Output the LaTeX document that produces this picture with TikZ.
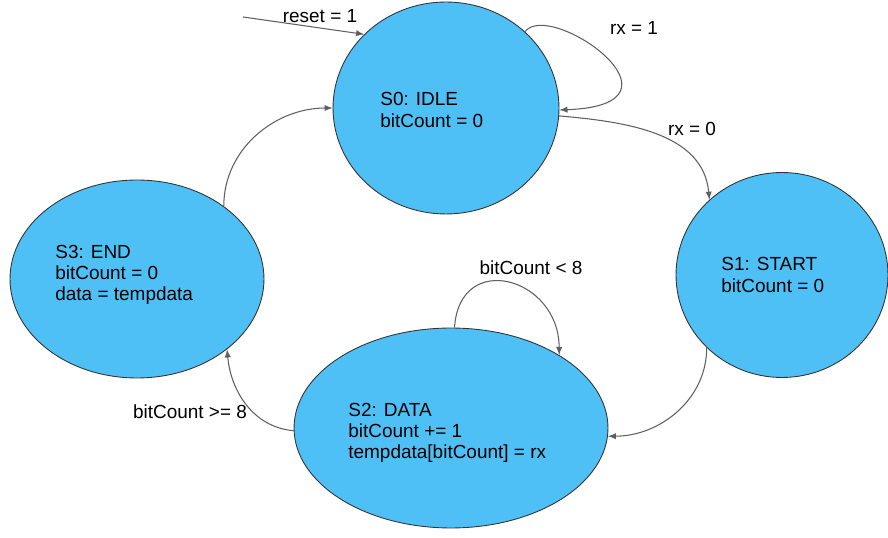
\documentclass[tikz,border=0pt]{standalone}
\usepackage{fontspec}
\setmainfont{Liberation Sans}
\usetikzlibrary{arrows,shapes.geometric}

\definecolor{stateblue}{RGB}{79,192,246}
\definecolor{edgegray}{RGB}{95,95,95}

\begin{document}
\begin{tikzpicture}[x=0.02cm, y=0.02cm,
    font=\fontsize{10.8}{12}\selectfont,
    fsm/.style={draw=black!80, ellipse, fill=stateblue, inner sep=0pt, line width=0.5pt},
    statetext/.style={anchor=west, align=left, inner sep=0pt},
    trans/.style={->, >=latex, draw=edgegray, line width=0.6pt},
    cond/.style={inner sep=1pt}
]
\useasboundingbox (0,0) rectangle (888,537);

% States
\node[fsm, minimum width=4.52cm, minimum height=4.24cm] (S0) at (446,429) {};
\node[fsm, minimum width=4.24cm, minimum height=4.10cm] (S1) at (782,262) {};
\node[fsm, minimum width=6.28cm, minimum height=4.00cm] (S2) at (451,109) {};
\node[fsm, minimum width=5.08cm, minimum height=3.96cm] (S3) at (137,258) {};

% State contents
\node[statetext] (S0t) at (380,427) {S0: IDLE\\bitCount = 0};
\node[statetext] (S1t) at (721,262) {S1: START\\bitCount = 0};
\node[statetext] (S2t) at (348,104) {S2: DATA\\bitCount += 1\\tempdata[bitCount] = rx};
\node[statetext] (S3t) at (55,262) {S3: END\\bitCount = 0\\data = tempdata};

% Reset entry
\coordinate (rst) at (243,520);
\draw[trans] (rst) -- (S0.138);
\node[cond] (Lreset) at (320,521) {reset = 1};

% S0 -> S0
\draw[trans] (S0.44) .. controls +(25,33) and +(142,5) .. (S0.-1);
\node[cond] (Lrx1) at (634,509) {rx = 1};

% S0 -> S1
\draw[trans] (S0.-4) to[out=-5, in=95] (S1.134);
\node[cond] (Lrx0) at (692,408) {rx = 0};

% S1 -> S2
\draw[trans] (S1.224) to[out=-90, in=0] (S2.-3);

% S2 -> S2
\draw[trans] (S2.88) .. controls +(5,78) and +(0,78) .. (S2.34);
\node[cond] (Lless) at (531,269) {bitCount < 8};

% S2 -> S3
\draw[trans] (S2.181) to[out=175, in=-85] (S3.-38);
\node[cond] (Lgeq) at (190,125) {bitCount >= 8};

% S3 -> S0
\draw[trans] (S3.40) to[out=90, in=180] (S0.180);

\end{tikzpicture}
\end{document}
